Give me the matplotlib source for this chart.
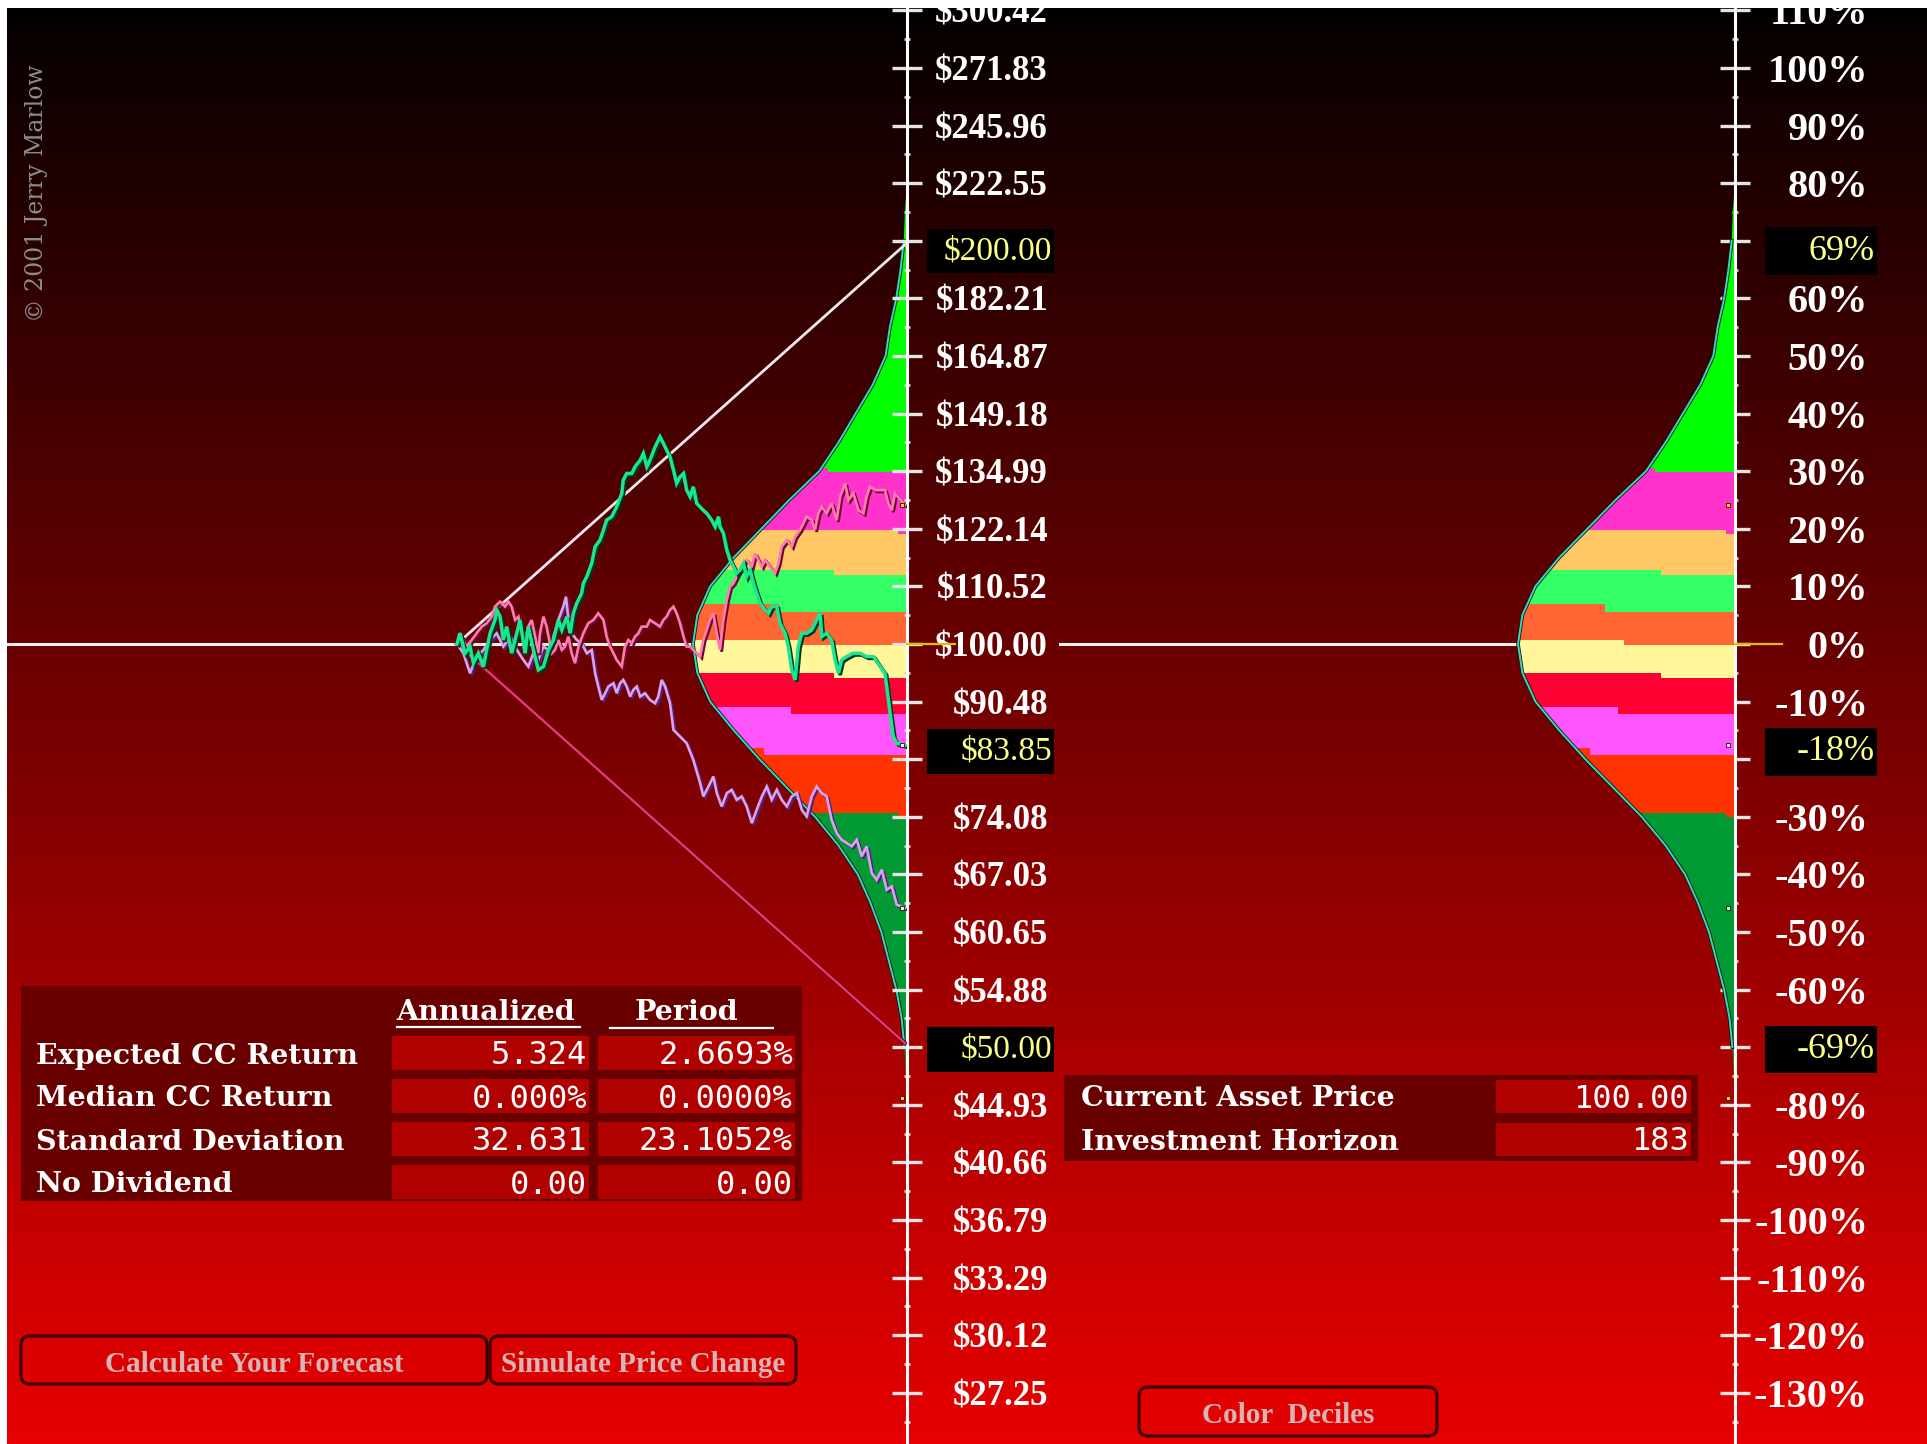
import numpy as np
import matplotlib
matplotlib.use("Agg")
import matplotlib.pyplot as plt
import matplotlib.patheffects as pe
import matplotlib.transforms as mtransforms
from matplotlib.patches import Rectangle, Polygon, FancyBboxPatch

# ---------------- data ----------------
tick_returns_pct = [110, 100, 90, 80, 70, 60, 50, 40, 30, 20, 10, 0, -10, -20, -30, -40,
                    -50, -60, -70, -80, -90, -100, -110, -120, -130, -140]
minor_returns_pct = [105, 95, 85, 75, 65, 55, 45, 35, 25, 15, 5, -5, -15, -25, -35, -45,
                     -55, -65, -75, -85, -95, -105, -115, -125, -135]
price_tick_labels = ["$300.42", "$271.83", "$245.96", "$222.55", "$201.38", "$182.21",
                     "$164.87", "$149.18", "$134.99", "$122.14", "$110.52", "$100.00",
                     "$90.48", "$81.87", "$74.08", "$67.03", "$60.65", "$54.88", "$49.66",
                     "$44.93", "$40.66", "$36.79", "$33.29", "$30.12", "$27.25", "$24.66"]
pct_tick_labels = ["110%", "100%", "90%", "80%", "70%", "60%", "50%", "40%", "30%", "20%",
                   "10%", "0%", "-10%", "-20%", "-30%", "-40%", "-50%", "-60%", "-70%",
                   "-80%", "-90%", "-100%", "-110%", "-120%", "-130%", "-140%"]

horizon_days = 183
current_price = 100.0
cone_prices = [200.0, 50.0]

# simulated paths: (day, continuously-compounded return in %)
green_path = [(0, 0.0), (1.2, 1.85), (3.3, -1.62), (5.3, -0.46), (6.7, -3.35), (8.7, -1.62),
              (10.8, -3.93), (12.1, -1.04), (13.5, 1.85), (15.5, 4.16), (16.2, 5.9), (17.6, 4.74),
              (18.9, 0.69), (20.3, 3.0), (22.3, -1.62), (24.4, 1.85), (25.7, 4.16), (27.8, -1.62),
              (29.1, 3.0), (31.2, -1.04), (33.2, -4.51), (35.3, -3.93), (37.3, -1.04), (39.4, 0.69),
              (41.4, 4.16), (42.8, 2.43), (44.8, 4.74), (46.2, 1.85), (47.5, 5.32), (48.9, 7.05),
              (50.9, 8.79), (51.6, 10.52), (53.0, 11.68), (55.0, 13.99), (56.4, 16.88), (58.4, 18.04),
              (59.8, 19.77), (61.1, 21.5), (63.2, 22.09), (65.2, 23.8), (67.3, 26.13), (67.9, 28.45),
              (69.3, 29.6), (71.4, 29.6), (72.7, 30.76), (74.8, 31.9), (76.1, 33.07), (77.5, 30.76),
              (78.8, 31.9), (80.9, 34.2), (82.9, 35.96), (84.3, 34.8), (85.6, 33.65), (87.0, 32.5),
              (88.4, 30.18), (89.7, 27.87), (91.1, 29.0), (92.5, 29.6), (93.8, 26.7), (95.2, 25.56),
              (96.5, 27.29), (97.9, 24.4), (100.6, 23.2), (102.0, 22.67), (104.0, 21.5), (105.4, 20.35),
              (106.8, 22.09), (107.4, 20.35), (108.8, 19.2), (110.2, 16.3), (111.5, 14.57),
              (112.9, 13.41), (114.2, 12.26), (115.6, 12.84), (117.0, 13.99), (118.3, 11.68),
              (119.7, 12.84), (121.1, 10.52), (122.4, 8.79), (123.8, 7.05), (125.8, 5.9), (127.2, 5.32),
              (128.5, 6.48), (130.6, 6.48), (131.9, 3.58), (134.0, 1.85), (135.3, -0.46), (136.7, -4.51),
              (138.1, -6.24), (139.4, -0.46), (140.8, 1.85), (142.8, 1.85), (144.9, 2.43), (146.9, 4.16),
              (148.3, 5.32), (149.0, 1.27), (151.0, 1.85), (153.0, 0.69), (154.4, -2.78), (155.8, -5.09),
              (157.1, -2.78), (159.2, -2.2), (161.9, -1.62), (164.6, -1.62), (167.3, -2.2), (170.1, -2.2),
              (172.8, -3.93), (174.8, -5.09), (175.5, -7.4), (176.9, -12.03), (178.2, -16.07),
              (179.6, -17.23), (183, -17.62)]

pink_path = [(0, 0.0), (1.2, 1.85), (3.9, -0.46), (6.0, 0.69), (8.0, 1.85), (10.1, 3.0), (12.1, 3.58),
             (14.2, 4.74), (15.5, 6.48), (17.6, 7.34), (19.6, 6.48), (21.0, 7.34), (22.3, 6.48),
             (23.7, 4.16), (25.1, 4.74), (26.4, 1.85), (27.8, 0.69), (29.1, 3.0), (30.5, 4.16),
             (31.9, 1.27), (33.2, -1.62), (33.9, 1.85), (35.3, 4.74), (36.6, 3.0), (38.7, -1.62),
             (40.0, -1.04), (41.4, 0.69), (42.8, -1.04), (44.1, -0.46), (45.5, 1.27), (46.8, -1.62),
             (48.2, -3.35), (49.6, -0.46), (51.6, 1.85), (53.6, 3.58), (55.7, 4.16), (57.7, 5.32),
             (59.8, 4.16), (61.1, 1.27), (62.5, -0.46), (63.9, -1.62), (65.2, -2.78), (67.3, -3.93),
             (68.6, -0.46), (70.0, 0.69), (71.4, 0.12), (72.7, 1.27), (74.1, 1.85), (75.4, 3.0),
             (77.5, 3.0), (78.8, 4.16), (80.9, 3.58), (82.9, 3.0), (84.3, 4.16), (85.6, 4.74),
             (87.0, 5.9), (88.4, 6.48), (89.7, 5.32), (91.1, 3.58), (92.5, 1.27), (93.8, -0.46),
             (95.2, -0.46), (96.5, -1.04), (97.9, -1.62), (99.3, -2.2), (100.6, 0.69), (102.0, 2.43),
             (103.3, 4.16), (104.7, 5.32), (106.1, 1.85), (107.4, -1.04), (108.8, 4.16), (110.2, 7.63),
             (111.5, 9.94), (112.9, 10.52), (114.2, 11.68), (115.6, 12.84), (117.0, 13.99),
             (118.3, 14.57), (120.4, 13.41), (121.7, 15.7), (123.1, 14.57), (124.5, 13.41),
             (125.8, 14.57), (127.9, 13.41), (129.9, 12.26), (131.3, 13.99), (132.6, 16.88),
             (134.7, 18.04), (136.7, 16.88), (138.1, 18.6), (140.1, 19.77), (141.5, 20.93),
             (142.8, 22.09), (144.9, 21.5), (146.2, 19.77), (147.6, 22.67), (149.0, 23.8),
             (151.0, 22.67), (153.0, 24.4), (155.1, 21.5), (156.5, 25.56), (158.5, 27.87),
             (159.9, 24.98), (161.9, 26.13), (164.0, 23.2), (166.0, 22.67), (167.3, 25.56),
             (168.7, 27.29), (170.8, 26.7), (172.8, 26.7), (174.8, 26.7), (176.2, 24.4),
             (177.6, 23.2), (178.9, 26.13), (183, 24.1)]

purple_path = [(0, 0.0), (2.6, -1.62), (5.3, -5.09), (8.0, -2.2), (10.8, -1.04), (13.5, 0.69),
               (16.2, 1.85), (18.9, -0.46), (21.7, 1.27), (24.4, -1.04), (27.1, -2.78), (29.1, -3.93),
               (31.2, -1.62), (33.2, -2.78), (35.3, -0.46), (37.3, -1.04), (39.4, 1.27), (41.4, 4.16),
               (43.4, 6.48), (44.5, 8.21), (45.5, 4.16), (46.8, 1.85), (48.9, 0.69), (50.9, 0.12),
               (53.0, -1.62), (55.0, -1.04), (56.4, -5.09), (57.7, -7.4), (59.1, -9.71), (60.5, -8.56),
               (61.8, -7.4), (63.9, -6.82), (65.2, -8.56), (66.6, -6.82), (67.9, -6.24), (69.3, -7.4),
               (70.7, -9.14), (72.0, -7.98), (73.4, -7.4), (74.8, -9.14), (76.8, -8.56), (78.8, -9.71),
               (80.9, -10.29), (82.2, -9.14), (83.6, -6.24), (85.0, -7.4), (87.0, -10.29),
               (88.4, -14.92), (91.1, -16.07), (93.8, -17.23), (96.5, -20.12), (99.3, -24.17),
               (100.6, -26.48), (102.7, -24.75), (104.7, -23.01), (106.1, -25.9), (108.1, -28.22),
               (110.2, -25.9), (112.2, -25.33), (114.2, -27.06), (116.3, -26.48), (118.3, -28.22),
               (120.4, -31.11), (122.4, -28.8), (124.5, -26.48), (126.5, -24.75), (128.5, -27.06),
               (130.6, -25.33), (132.6, -27.06), (134.7, -28.22), (136.7, -26.48), (138.8, -25.9),
               (140.8, -28.8), (142.8, -29.95), (144.9, -26.48), (146.9, -24.75), (149.0, -25.9),
               (151.0, -26.48), (153.0, -30.53), (155.1, -32.84), (157.1, -34.0), (159.2, -34.58),
               (161.2, -35.15), (163.3, -34.0), (165.3, -36.89), (167.3, -35.15), (169.4, -39.78),
               (171.4, -40.94), (173.5, -39.2), (175.5, -42.67), (177.6, -42.09), (179.6, -45.27),
               (183, -45.85)]

# distribution of end-of-horizon returns (relative width)
density_levels = [-80, -75, -70, -65, -60, -55, -50, -45, -40, -35, -30, -25, -20, -15, -10, -5, 0,
                  5, 10, 15, 20, 25, 30, 35, 40, 45, 50, 55, 60, 65, 70, 75, 80]
density_rel = [0.0, 0.005, 0.012, 0.025, 0.05, 0.085, 0.12, 0.17, 0.23, 0.32, 0.43, 0.56, 0.69,
               0.81, 0.92, 0.98, 1.0, 0.98, 0.92, 0.81, 0.68, 0.55, 0.41, 0.32, 0.24, 0.16, 0.10,
               0.08, 0.05, 0.03, 0.015, 0.01, 0.0]

band_colors = ['#00FF00', '#FF33CC', '#FFC864', '#33FF66', '#FF6633',
               '#FFF799', '#FF0033', '#FF55FF', '#FF3300', '#009933']
band_bounds_left = [30.5, 19.8, 12.8, 6.9, 0.7, -5.1, -10.9, -18.1, -29.3]
band_bounds_right = [29.8, 19.0, 12.0, 5.6, -0.2, -5.95, -12.2, -19.3, -30.0]
band_split_rel = [0.37, 0.04, 0.34, 0.60, 0.51, 0.34, 0.54, 0.67, 0.04]

highlight_returns = [69.31, -17.62, -69.31]
highlight_price_labels = ["$200.00", "$83.85", "$50.00"]
highlight_pct_labels = ["69%", "-18%", "-69%"]

marker_returns = [24.1, -17.62, -45.85, -78.8]
marker_colors = ['#FFE000', '#F0F0F0', '#F0F0F0', '#FFE000']

stat_rows = ["Expected CC Return", "Median CC Return", "Standard Deviation", "No Dividend"]
annualized_vals = ["5.324", "0.000%", "32.631", "0.00"]
period_vals = ["2.6693%", "0.0000%", "23.1052%", "0.00"]
asset_rows = ["Current Asset Price", "Investment Horizon"]
asset_vals = ["100.00", "183"]
button_labels = ["Calculate Your Forecast", "Simulate Price Change", "Color  Deciles"]
copyright_text = "\u00a9 2001 Jerry Marlow"

# ---------------- figure ----------------
W, H = 1927, 1444
fig = plt.figure(figsize=(W / 100, H / 100), dpi=100)

# background gradient
ax_bg = fig.add_axes([0, 0, 1, 1], zorder=0)
g = np.linspace(0, 1, 600)
img = np.zeros((600, 1, 3))
img[:, 0, 0] = 0.01 + 0.90 * g
ax_bg.imshow(img, aspect='auto', extent=[0, 1, 0, 1], origin='upper', interpolation='bilinear')
ax_bg.set_axis_off()

YLIM = (-138.9, 110.4)
pos_left = [7 / W, 0, 900 / W, 1436 / H]
pos_right = [1059 / W, 0, 676 / W, 1436 / H]


def draw_distribution(ax):
    ax.axhline(0, color='#EEEEEE', lw=2.2, zorder=1)
    poly = Polygon(np.column_stack([density_rel, density_levels]), closed=True,
                   facecolor='none', edgecolor='none', zorder=0)
    ax.add_patch(poly)
    tops = [80] + band_bounds_left
    bottoms = band_bounds_left + [-80]
    for c, t, b in zip(band_colors, tops, bottoms):
        r = Rectangle((0, b), 1.2, t - b, facecolor=c, edgecolor='none', zorder=2)
        ax.add_patch(r)
        r.set_clip_path(poly)
    for j in range(len(band_bounds_left)):
        r = Rectangle((0, band_bounds_right[j]), band_split_rel[j],
                      band_bounds_left[j] - band_bounds_right[j],
                      facecolor=band_colors[j], edgecolor='none', zorder=2.5)
        ax.add_patch(r)
        r.set_clip_path(poly)
    dl = np.array(density_levels)
    dr = np.array(density_rel)
    m = np.abs(dl) <= 70
    ax.plot(dr[m], dl[m], color='#38D8C0', lw=1.4, zorder=3,
            path_effects=[pe.Stroke(linewidth=2.6, foreground='#1A1010'), pe.Normal()])


def visible_labels(labels):
    # labels hidden behind the highlight boxes are not drawn
    return [lab if all(abs(t - h) > 4 for h in highlight_returns) else ""
            for t, lab in zip(tick_returns_pct, labels)]


def style_axis(ax, labels, size, pad):
    for s in ['left', 'top', 'bottom']:
        ax.spines[s].set_visible(False)
    ax.spines['right'].set_color('white')
    ax.spines['right'].set_linewidth(2.2)
    ax.set_xticks([])
    ax.yaxis.tick_right()
    ax.set_yticks(tick_returns_pct)
    ax.set_yticklabels(visible_labels(labels), fontfamily='Liberation Serif',
                       fontweight='bold', ha='right')
    ax.set_yticks(minor_returns_pct, minor=True)
    ax.tick_params(axis='y', which='major', direction='inout', length=22, width=2.4,
                   color='#E4E4E4', pad=pad, labelsize=size, labelcolor='white')
    ax.tick_params(axis='y', which='minor', direction='inout', length=5, width=2,
                   color='#D0D0D0')
    ax.set_ylim(*YLIM)


# left panel: distribution (density units) underneath, paths on top
ax_d = fig.add_axes(pos_left, zorder=1)
ax_d.set_xlim(900 / 214, 0)
ax_d.set_ylim(*YLIM)
ax_d.set_axis_off()
draw_distribution(ax_d)

ax_p = fig.add_axes(pos_left, zorder=2)
ax_p.patch.set_visible(False)
ax_p.set_xlim(-183.8, 183.8)
style_axis(ax_p, price_tick_labels, 25, 90.5)

cone_returns = [100 * np.log(p / current_price) for p in cone_prices]
ax_p.plot([0, horizon_days], [0, cone_returns[0]], color='#F4E6F0', lw=2.0, zorder=3)
ax_p.plot([0, horizon_days], [0, cone_returns[1]], color='#F0336A', lw=1.8, zorder=3,
          path_effects=[pe.Stroke(linewidth=2.9, foreground='#500020'), pe.Normal()])

for path, main, dark, lw in [(purple_path, '#D8A2EC', '#5A1E7A', 1.9),
                             (pink_path, '#FF7AB0', '#6A0830', 1.9),
                             (green_path, '#18E690', '#003820', 2.5)]:
    d = [p[0] for p in path]
    r = [p[1] for p in path]
    ax_p.plot(d, r, color=main, lw=lw, zorder=4, solid_joinstyle='miter',
              path_effects=[pe.SimpleLineShadow(offset=(1.3, -1.3), shadow_color=dark, alpha=1.0),
                            pe.Normal()])

ax_p.plot([183.8, 203.4], [0, 0], color='#E8B800', lw=1.6, zorder=6, clip_on=False)
for mr, mc in zip(marker_returns, marker_colors):
    ax_p.plot([181.6], [mr], marker='s', ms=3.5, color=mc, mec='#201010', mew=0.6,
              zorder=6, clip_on=False)

# right panel
ax_r = fig.add_axes(pos_right, zorder=1)
ax_r.patch.set_visible(False)
ax_r.set_xlim(676 / 217, 0)
draw_distribution(ax_r)
style_axis(ax_r, pct_tick_labels, 29, 84.8)
ax_r.plot([0, -0.217], [0, 0], color='#E8B800', lw=1.6, zorder=6, clip_on=False)
for mr, mc in zip(marker_returns, marker_colors):
    ax_r.plot([0.03], [mr], marker='s', ms=3.5, color=mc, mec='#201010', mew=0.6,
              zorder=6, clip_on=False)

# UI overlay in pixel coordinates (y down)
ax_ui = fig.add_axes([0, 0, 1, 1], zorder=5)
ax_ui.set_xlim(0, W)
ax_ui.set_ylim(H, 0)
ax_ui.set_axis_off()

# highlight boxes
trans_l = mtransforms.blended_transform_factory(ax_ui.transData, ax_p.transData)
trans_r = mtransforms.blended_transform_factory(ax_ui.transData, ax_r.transData)
for rv, pl, ql in zip(highlight_returns, highlight_price_labels, highlight_pct_labels):
    yc = rv - 1.1
    ax_p.add_patch(Rectangle((927, yc - 3.9), 127, 7.8, transform=trans_l,
                             facecolor='black', edgecolor='none', zorder=10, clip_on=False))
    ax_p.text(1052, yc, pl, transform=trans_l, ha='right', va='center',
              color='#FFFF88', fontfamily='Liberation Serif', fontsize=24, zorder=11,
              clip_on=False)
    ax_r.add_patch(Rectangle((1765, yc - 4.15), 112, 8.3, transform=trans_r,
                             facecolor='black', edgecolor='none', zorder=10, clip_on=False))
    ax_r.text(1875, yc, ql, transform=trans_r, ha='right', va='center',
              color='#FFFF88', fontfamily='Liberation Serif', fontsize=26, zorder=11,
              clip_on=False)


def rect(x0, y0, x1, y1, color, z=6):
    ax_ui.add_patch(Rectangle((x0, y0), x1 - x0, y1 - y0, facecolor=color,
                              edgecolor='none', zorder=z))


label_font = dict(fontfamily='DejaVu Serif', fontweight='bold', fontsize=20.5, color='white')
value_font = dict(fontfamily='DejaVu Sans Mono', fontsize=23, color='white')

# statistics table
rect(21, 986, 802, 1201, '#680000')
ax_ui.text(486, 1012, "Annualized", ha='center', va='center', zorder=8, **label_font)
ax_ui.plot([397, 580], [1027, 1027], color='white', lw=1.6, zorder=8)
ax_ui.text(686, 1012, "Period", ha='center', va='center', zorder=8, **label_font)
ax_ui.plot([610, 773], [1028, 1028], color='white', lw=1.6, zorder=8)
row_tops = [1036, 1079, 1122, 1165]
for yt, lab, a, p in zip(row_tops, stat_rows, annualized_vals, period_vals):
    rect(392, yt, 589, yt + 34, '#B00000', 7)
    rect(598, yt, 795, yt + 34, '#B00000', 7)
    yc = yt + 20
    ax_ui.text(36, yc, lab, ha='left', va='center', zorder=8, **label_font)
    ax_ui.text(587, yc, a, ha='right', va='center', zorder=8, **value_font)
    ax_ui.text(793, yc, p, ha='right', va='center', zorder=8, **value_font)

# asset table
rect(1064, 1075, 1698, 1161, '#680000')
for yt, lab, v in zip([1080, 1123], asset_rows, asset_vals):
    rect(1496, yt, 1691, yt + 33, '#B00000', 7)
    ax_ui.text(1081, yt + 19, lab, ha='left', va='center', zorder=8, **label_font)
    ax_ui.text(1689, yt + 19, v, ha='right', va='center', zorder=8, **value_font)

# buttons
button_boxes = [(21, 1336, 487, 1384), (490, 1336, 796, 1384), (1139, 1387, 1437, 1436)]
for (x0, y0, x1, y1), lab in zip(button_boxes, button_labels):
    ax_ui.add_patch(FancyBboxPatch((x0, y0), x1 - x0, y1 - y0,
                                   boxstyle='round,pad=0,rounding_size=9',
                                   facecolor='none', edgecolor='#3A0000', lw=2.2, zorder=7))
    ax_ui.text((x0 + x1) / 2, (y0 + y1) / 2 + 4, lab, ha='center', va='center', zorder=8,
               fontfamily='Liberation Serif', fontweight='bold', fontsize=21, color='#D8B4B4')

# copyright
ax_ui.text(37, 193, copyright_text, rotation=90, ha='center', va='center', color='#8C8C8C',
           fontfamily='DejaVu Serif', fontsize=17, zorder=8)

# white frame strips
rect(0, 0, W, 8, 'white', 20)
rect(0, 0, 7, H, 'white', 20)

fig.savefig('out.png', dpi=100)
